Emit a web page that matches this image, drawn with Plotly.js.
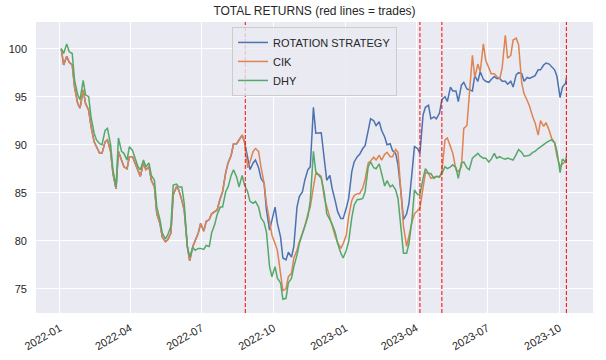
<!DOCTYPE html>
<html>
<head>
<meta charset="utf-8">
<script src="https://cdn.plot.ly/plotly-3.0.1.min.js"></script>
<style>html,body{margin:0;padding:0;background:#fff;}#chart{width:606px;height:360px;}</style>
</head>
<body>
<div id="chart"></div>
<script>
const dates = [
"2022-01-03","2022-01-06","2022-01-10","2022-01-13","2022-01-17","2022-01-20",
"2022-01-24","2022-01-27","2022-01-31","2022-02-03","2022-02-07","2022-02-10",
"2022-02-14","2022-02-17","2022-02-21","2022-02-24","2022-02-28","2022-03-03",
"2022-03-07","2022-03-10","2022-03-14","2022-03-17","2022-03-21","2022-03-24",
"2022-03-28","2022-03-31","2022-04-04","2022-04-07","2022-04-11","2022-04-14",
"2022-04-18","2022-04-21","2022-04-25","2022-04-28","2022-05-02","2022-05-05",
"2022-05-09","2022-05-12","2022-05-16","2022-05-19","2022-05-23","2022-05-26",
"2022-05-30","2022-06-02","2022-06-06","2022-06-09","2022-06-13","2022-06-16",
"2022-06-20","2022-06-23","2022-06-27","2022-06-30","2022-07-04","2022-07-07",
"2022-07-11","2022-07-14","2022-07-18","2022-07-21","2022-07-25","2022-07-28",
"2022-08-01","2022-08-04","2022-08-08","2022-08-11","2022-08-15","2022-08-18",
"2022-08-22","2022-08-25","2022-08-29","2022-09-01","2022-09-05","2022-09-08",
"2022-09-12","2022-09-15","2022-09-19","2022-09-22","2022-09-26","2022-09-29",
"2022-10-03","2022-10-06","2022-10-10","2022-10-13","2022-10-17","2022-10-20",
"2022-10-24","2022-10-27","2022-10-31","2022-11-03","2022-11-07","2022-11-10",
"2022-11-14","2022-11-17","2022-11-21","2022-11-24","2022-11-28","2022-12-01",
"2022-12-05","2022-12-08","2022-12-12","2022-12-15","2022-12-19","2022-12-22",
"2022-12-26","2022-12-29","2023-01-02","2023-01-05","2023-01-09","2023-01-12",
"2023-01-16","2023-01-19","2023-01-23","2023-01-26","2023-01-30","2023-02-02",
"2023-02-06","2023-02-09","2023-02-13","2023-02-16","2023-02-20","2023-02-23",
"2023-02-27","2023-03-02","2023-03-06","2023-03-09","2023-03-13","2023-03-16",
"2023-03-20","2023-03-23","2023-03-27","2023-03-30","2023-04-03","2023-04-06",
"2023-04-10","2023-04-13","2023-04-17","2023-04-20","2023-04-24","2023-04-27",
"2023-05-01","2023-05-04","2023-05-08","2023-05-11","2023-05-15","2023-05-18",
"2023-05-22","2023-05-25","2023-05-29","2023-06-01","2023-06-05","2023-06-08",
"2023-06-12","2023-06-15","2023-06-19","2023-06-22","2023-06-26","2023-06-29",
"2023-07-03","2023-07-06","2023-07-10","2023-07-13","2023-07-17","2023-07-20",
"2023-07-24","2023-07-27","2023-07-31","2023-08-03","2023-08-07","2023-08-10",
"2023-08-14","2023-08-17","2023-08-21","2023-08-24","2023-08-28","2023-08-31",
"2023-09-04","2023-09-07","2023-09-11","2023-09-14","2023-09-18","2023-09-21",
"2023-09-25","2023-09-28","2023-10-02","2023-10-05",
"2023-10-09","2023-10-10"
];

const rotation = [
100,98.3,99.2,98.6,98.3,96.0,
94.3,93.8,95.7,94.3,93.6,91.9,
90.3,89.8,89.1,89.1,90.3,90.5,
89.3,87.0,85.4,89.3,88.4,87.7,
87.5,88.75,88.75,88.1,87.2,86.7,
88.1,87.4,87.7,86.3,85.6,82.8,
81.8,80.4,79.9,80.1,80.8,84.8,
85.6,85.3,84.2,83.2,79.4,77.9,
79.4,80.1,80.8,81.8,81.0,82.0,
82.2,82.8,83.0,83.2,84.4,85.1,
87.1,88.1,88.9,90.1,90.1,90.5,
91.0,90.3,88.4,87.4,88.1,88.4,
87.6,86.5,86.0,83.2,81.1,82.2,
83.5,81.8,80.4,78.2,78.0,78.8,
78.3,79.4,83.5,84.6,85.1,86.3,
87.4,87.7,93.9,91.2,91.2,91.25,
88.4,86.3,86.8,85.4,84.1,83.0,
82.3,82.3,83.4,84.4,87.2,88.2,
88.75,89.0,89.6,89.9,91.5,92.7,
92.5,92.0,92.4,91.5,90.8,90.0,
90.1,89.4,89.1,87.9,84.9,82.2,
82.8,83.9,87.2,89.8,89.6,89.1,
93.1,93.9,94.1,92.7,92.9,92.7,
93.3,94.7,95.0,94.5,96.0,95.6,
95.6,94.5,96.2,96.5,95.8,95.7,
95.6,97.2,96.6,97.6,96.8,96.6,
96.5,96.8,97.1,96.9,96.9,96.6,
96.6,96.3,96.6,96.0,97.3,97.5,
97.4,96.6,97.0,96.9,97.1,97.2,
97.8,97.8,98.3,98.5,98.4,98.1,
97.8,97.1,94.9,96.0,
96.4,96.9
];

const cik = [
100,98.3,99.2,98.6,98.3,96.0,
94.3,93.8,95.7,94.3,93.6,91.9,
90.3,89.8,89.1,89.1,90.3,90.5,
89.3,87.0,85.4,89.3,88.4,87.7,
87.5,88.75,88.75,88.1,87.2,86.7,
88.1,87.4,87.7,86.3,85.6,82.8,
81.8,80.4,79.9,80.1,80.8,84.8,
85.6,85.3,84.2,83.2,79.4,77.9,
79.4,80.1,80.8,81.8,81.0,82.0,
82.2,82.8,83.0,83.2,84.4,85.1,
87.1,88.1,88.9,90.1,90.1,90.5,
91.0,90.3,87.6,88.2,89.3,89.6,
89.3,87.7,86.0,83.9,81.8,80.6,
79.7,79.0,76.6,74.8,75.0,76.25,
76.6,78.2,79.0,79.9,80.8,81.5,
82.8,83.5,85.6,87.0,86.9,86.7,
84.4,83.5,82.5,81.5,80.4,79.8,
79.2,79.7,80.6,82.5,84.2,84.7,
84.9,84.9,85.5,86.4,88.1,88.3,
88.7,88.4,88.9,88.4,89.0,89.2,
88.75,88.75,89.5,89.2,84.6,81.5,
79.4,80.6,82.0,82.8,83.1,83.4,
85.5,87.1,87.0,86.5,86.6,86.7,
86.6,87.2,90.5,90.7,89.8,89.1,
87.4,87.2,87.7,91.7,92.0,95.0,
99.3,97.0,98.4,97.6,100.5,98.8,
98.1,97.4,97.4,97.1,96.9,98.0,
101.4,99.0,99.3,100.9,101.1,100.4,
96.4,95.3,94.6,94.0,92.9,92.3,
91.0,92.5,91.9,92.3,91.5,90.7,
90.2,88.8,87.7,88.0,
88.2,88.1
];

const dhy = [
100,99.5,100.5,99.7,99.5,96.7,
95.2,94.7,96.7,95.2,95.0,92.9,
91.2,90.5,90.1,90.0,91.5,91.7,
90.0,87.4,85.6,90.7,89.3,89.1,
88.4,89.8,89.4,88.6,87.7,87.4,
88.4,87.7,88.1,86.8,86.3,83.5,
82.2,80.8,80.2,80.6,81.5,85.8,
85.9,85.6,85.6,83.9,79.4,78.3,
79.3,79.0,79.2,79.2,79.1,79.5,
79.4,80.8,81.7,82.7,83.5,83.5,
85.1,85.6,86.8,87.4,86.6,85.6,
86.8,85.8,85.1,84.1,83.9,84.1,
83.5,82.4,81.9,80.9,77.3,76.25,
77.3,76.1,75.6,73.9,74.0,75.6,
76.1,77.3,78.5,79.7,80.6,81.5,
82.5,84.2,89.3,87.2,86.8,86.5,
84.9,82.8,82.2,81.7,80.8,79.7,
78.7,78.2,79.0,79.9,82.4,83.7,
84.3,84.3,84.4,85.1,87.7,88.2,
87.6,87.5,88.0,87.0,85.7,86.25,
85.6,85.8,85.3,84.4,81.5,78.7,
78.7,79.7,82.3,85.3,84.8,84.8,
86.5,87.5,87.0,87.0,86.5,86.7,
86.7,87.0,87.7,87.5,87.7,87.9,
87.6,86.5,88.1,88.2,87.6,87.4,
88.6,88.8,89.1,88.8,88.6,88.6,
88.2,88.5,89.1,88.6,88.75,88.6,
88.5,88.6,88.5,88.4,89.0,89.5,
89.2,88.8,88.85,88.9,89.2,89.3,
89.6,89.8,90.1,90.2,90.4,90.5,
90.2,89.3,87.1,88.5,
88.2,88.75
];

const tradeDates = ["2022-08-26","2023-04-06","2023-05-04","2023-10-10"];
const seriesNames = ["ROTATION STRATEGY","CIK","DHY"];
const seriesColors = ["#4c72b0","#dd8452","#55a868"];

const ys = [rotation, cik, dhy];
const traces = ys.map((y,i)=>({
  x: dates, y: y, type:'scatter', mode:'lines', name: seriesNames[i],
  line:{color: seriesColors[i], width:1.5}
}));

const shapes = tradeDates.map(d=>({
  type:'line', xref:'x', yref:'paper', x0:d, x1:d, y0:0, y1:1,
  line:{color:'red', width:1, dash:'4px,2px'}, layer:'above'
}));

const font = {family:'"Liberation Sans", Arial, sans-serif', size:11, color:'#262626'};

const layout = {
  width:606, height:360,
  margin:{l:36, r:13, t:22, b:47, pad:0},
  paper_bgcolor:'#ffffff', plot_bgcolor:'#eaeaf2',
  font: font,
  title:{text:'TOTAL RETURNS (red lines = trades)', font:{family:font.family, size:12, color:'#262626'},
         x:0.5, xref:'paper', y:1-11/360, yref:'container', yanchor:'middle'},
  xaxis:{type:'date', range:['2021-12-01 18:00','2023-11-13'], tickformat:'%Y-%m', dtick:'M3', tick0:'2022-01-01',
         tickangle:-30, gridcolor:'#ffffff', gridwidth:1, zeroline:false, showline:false, ticks:'', tickfont:font,
         automargin:false, ticklabelstandoff:6},
  yaxis:{range:[72.47,102.78], dtick:5, tick0:0, gridcolor:'#ffffff', gridwidth:1, zeroline:false, showline:false, ticks:'',
         tickfont:font, automargin:false, ticklabelstandoff:8},
  legend:{x:0.5, xanchor:'center', y:0.983, yanchor:'top', bgcolor:'rgba(234,234,242,0.8)', bordercolor:'#cccccc',
          borderwidth:1, font:font},
  shapes: shapes,
  showlegend:true
};

Plotly.newPlot('chart', traces, layout, {staticPlot:true, displayModeBar:false});
</script>
</body>
</html>
